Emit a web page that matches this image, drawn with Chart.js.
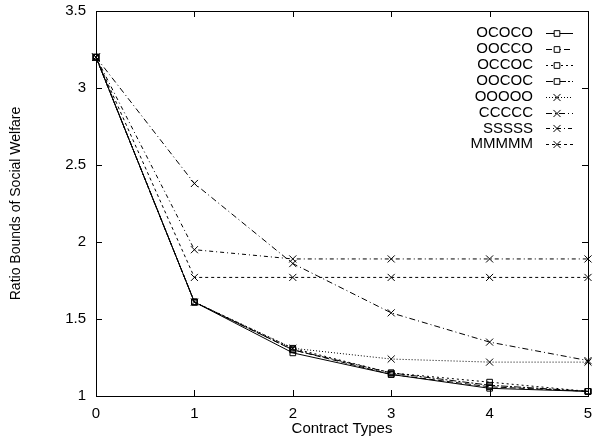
<!DOCTYPE html>
<html>
<head>
<meta charset="utf-8">
<script src="https://cdn.jsdelivr.net/npm/chart.js@4/dist/chart.umd.min.js"></script>
<style>
  html, body { margin: 0; padding: 0; background: #fff; }
  #wrap { width: 596px; height: 438px; }
</style>
</head>
<body>
<div id="wrap"><canvas id="ratio"></canvas></div>
<script>
"use strict";

/* data */
var contractTypes = ['0', '1', '2', '3', '4', '5'];
var ococo = [3.2, 1.61, 1.28, 1.14, 1.05, 1.03];
var oocco = [3.2, 1.61, 1.30, 1.14, 1.06, 1.03];
var occoc = [3.2, 1.61, 1.31, 1.15, 1.09, 1.03];
var oococ = [3.2, 1.61, 1.30, 1.15, 1.07, 1.03];
var ooooo = [3.2, 1.61, 1.31, 1.24, 1.22, 1.22];
var ccccc = [3.2, 2.38, 1.86, 1.54, 1.35, 1.23];
var sssss = [3.2, 1.95, 1.89, 1.89, 1.89, 1.89];
var mmmmm = [3.2, 1.77, 1.77, 1.77, 1.77, 1.77];
var yTicks = [1, 1.5, 2, 2.5, 3, 3.5];

var FONT = '"Liberation Sans", Arial, sans-serif';

function series(label, data, dash, marker) {
    return {
        label: label,
        data: data,
        borderColor: '#000',
        borderWidth: 1,
        borderDash: dash,
        pointStyle: marker === 'sq' ? 'rect' : 'crossRot',
        pointRadius: marker === 'sq' ? 4 : 5,
        pointBorderWidth: 1,
        pointBorderColor: '#000',
        pointBackgroundColor: 'rgba(0,0,0,0)',
        fill: false,
        tension: 0
    };
}

var datasets = [
    series('OCOCO', ococo, [], 'sq'),
    series('OOCCO', oocco, [6, 3], 'sq'),
    series('OCCOC', occoc, [2, 3], 'sq'),
    series('OOCOC', oococ, [7, 2, 2, 2], 'sq'),
    series('OOOOO', ooooo, [1, 2], 'x'),
    series('CCCCC', ccccc, [6, 3, 1, 3], 'x'),
    series('SSSSS', sssss, [4, 3, 1, 3], 'x'),
    series('MMMMM', mmmmm, [3, 3], 'x')
];

/* gnuplot style frame with inward ticks */
var framePlugin = {
    id: 'frame',
    afterDatasetsDraw: function (chart) {
        var ctx = chart.ctx, a = chart.chartArea;
        var xs = chart.scales.x, ys = chart.scales.y;
        ctx.save();
        ctx.strokeStyle = '#000';
        ctx.lineWidth = 1;
        ctx.setLineDash([]);
        ctx.strokeRect(Math.round(a.left) + 0.5, Math.round(a.top) + 0.5,
            Math.round(a.right - a.left), Math.round(a.bottom - a.top));
        ctx.beginPath();
        contractTypes.forEach(function (c, i) {
            var px = Math.round(xs.getPixelForValue(i)) + 0.5;
            ctx.moveTo(px, a.bottom); ctx.lineTo(px, a.bottom - 6);
            ctx.moveTo(px, a.top); ctx.lineTo(px, a.top + 6);
        });
        yTicks.forEach(function (v) {
            var py = Math.round(ys.getPixelForValue(v)) + 0.5;
            ctx.moveTo(a.left, py); ctx.lineTo(a.left + 6, py);
            ctx.moveTo(a.right, py); ctx.lineTo(a.right - 6, py);
        });
        ctx.stroke();
        ctx.restore();
    },
    afterDraw: function (chart) {
        // key, text left of the sample
        var ctx = chart.ctx;
        var textRight = 533, x0 = 546, x1 = 573, xm = 557;
        ctx.save();
        ctx.font = '15px ' + FONT;
        ctx.textAlign = 'right';
        ctx.textBaseline = 'middle';
        chart.data.datasets.forEach(function (ds, i) {
            var y = 33 + i * 15.9;
            ctx.fillStyle = '#000';
            ctx.fillText(ds.label, textRight, y);
            var yy = Math.round(y) + 0.5;
            ctx.strokeStyle = '#000';
            ctx.lineWidth = 1;
            ctx.setLineDash(ds.borderDash);
            ctx.beginPath();
            ctx.moveTo(x0, yy); ctx.lineTo(x1, yy);
            ctx.stroke();
            ctx.setLineDash([]);
            // clear behind the square marker, then outline it
            ctx.fillStyle = '#fff';
            Chart.helpers.drawPoint(ctx, {
                pointStyle: ds.pointStyle,
                radius: ds.pointRadius,
                borderWidth: 1,
                rotation: 0
            }, xm, yy);
        });
        ctx.restore();
    }
};

var ratioChart = new Chart(document.getElementById('ratio').getContext('2d'), {
    type: 'line',
    data: {
        labels: contractTypes,
        datasets: datasets
    },
    plugins: [framePlugin],
    options: {
        animation: false,
        responsive: true,
        maintainAspectRatio: false,
        layout: {
            padding: { top: 11, right: 8, left: 0, bottom: 0 }
        },
        plugins: {
            legend: { display: false },
            tooltip: { enabled: false }
        },
        scales: {
            x: {
                type: 'category',
                offset: false,
                grid: { display: false, drawTicks: false },
                border: { display: false },
                ticks: {
                    color: '#000',
                    padding: 9,
                    maxRotation: 0,
                    font: { family: FONT, size: 15 }
                },
                title: {
                    display: true,
                    text: 'Contract Types',
                    color: '#000',
                    padding: { top: 0, bottom: 0 },
                    font: { family: FONT, size: 15 }
                },
                afterFit: function (s) {
                    s.height = 42;
                    s.paddingLeft = 0;
                    s.paddingRight = 0;
                }
            },
            y: {
                min: 1,
                max: 3.5,
                grid: { display: false, drawTicks: false },
                border: { display: false },
                afterBuildTicks: function (s) {
                    s.ticks = yTicks.map(function (v) { return { value: v }; });
                },
                ticks: {
                    color: '#000',
                    padding: 10,
                    font: { family: FONT, size: 15 },
                    callback: function (v) { return String(v); }
                },
                title: {
                    display: true,
                    text: 'Ratio Bounds of Social Welfare',
                    color: '#000',
                    padding: { top: 8, bottom: 0 },
                    font: { family: FONT, size: 14 }
                },
                afterFit: function (s) {
                    s.width = 96;
                    s.paddingTop = 0;
                    s.paddingBottom = 0;
                }
            }
        }
    }
});
</script>
</body>
</html>
